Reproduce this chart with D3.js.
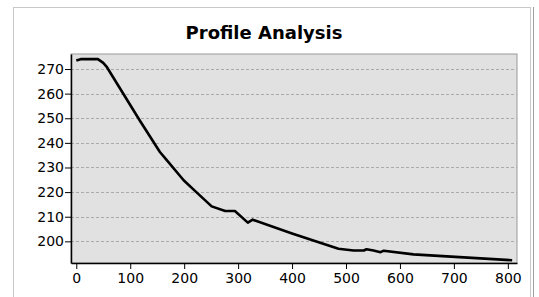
<!DOCTYPE html>
<html>
<head>
<meta charset="utf-8">
<script src="https://cdn.jsdelivr.net/npm/d3@7"></script>
<style>
  body { margin: 0; background: #fff; }
  svg text { font-family: "DejaVu Sans", sans-serif; }
</style>
</head>
<body>
<svg id="chart" width="539" height="297"></svg>
<script>
// profile values
const distance = [0, 8, 40, 50, 56, 118, 155, 165, 199, 225, 251, 276, 294, 318, 327, 400, 486, 514, 533, 538, 551, 564, 570, 625, 687, 808];
const elevation = [273.5, 274, 274, 272.5, 271, 249, 236.3, 233.7, 224.8, 219.5, 214.2, 212.3, 212.3, 207.6, 208.8, 203.2, 197, 196.3, 196.3, 196.8, 196.3, 195.6, 196.2, 194.7, 193.9, 192.3];
const xTicks = [0, 100, 200, 300, 400, 500, 600, 700, 800];
const yTicks = [200, 210, 220, 230, 240, 250, 260, 270];

const data = distance.map((d, i) => ({x: d, y: elevation[i]}));

const svg = d3.select('#chart');

// outer frame
svg.append('rect')
   .attr('x', 13.5).attr('y', 7.5)
   .attr('width', 517).attr('height', 300)
   .attr('fill', 'none')
   .attr('stroke', '#c8c8c8');
svg.append('line')
   .attr('x1', 533.5).attr('x2', 533.5).attr('y1', 7).attr('y2', 297)
   .attr('stroke', '#a0a0a0');

const margin = {top: 54, right: 22, bottom: 34, left: 71};
const width = 539 - margin.left - margin.right;
const height = 297 - margin.top - margin.bottom;

svg.append('text')
   .attr('x', 264).attr('y', 39)
   .attr('text-anchor', 'middle')
   .style('font-size', '18px')
   .style('font-weight', 'bold')
   .text('Profile Analysis');

const g = svg.append('g')
   .attr('transform', `translate(${margin.left}, ${margin.top})`);

const xScale = d3.scaleLinear().domain([-9.8, 817]).range([0, width]);
const yScale = d3.scaleLinear().domain([191.2, 276.1]).range([height, 0]);

g.append('rect')
 .attr('width', width).attr('height', height)
 .attr('fill', '#e1e1e1')
 .attr('stroke', '#999');

// dashed grid
g.selectAll('.grid')
 .data(yTicks)
 .enter()
 .append('line')
 .attr('x1', 0).attr('x2', width)
 .attr('y1', d => Math.round(yScale(d)) + 0.5)
 .attr('y2', d => Math.round(yScale(d)) + 0.5)
 .attr('stroke', '#aaa')
 .attr('stroke-dasharray', '3,2');

const line = d3.line()
    .x(d => xScale(d.x))
    .y(d => yScale(d.y));

g.append('path')
 .datum(data)
 .attr('d', line)
 .attr('fill', 'none')
 .attr('stroke', '#000')
 .attr('stroke-width', 2.6)
 .attr('stroke-linejoin', 'round');

const xAxis = g.append('g')
 .attr('transform', `translate(0, ${height})`)
 .call(d3.axisBottom(xScale).tickValues(xTicks).tickSize(6).tickSizeOuter(0).tickPadding(4));
const yAxis = g.append('g')
 .call(d3.axisLeft(yScale).tickValues(yTicks).tickSize(6).tickSizeOuter(0).tickPadding(1));

[xAxis, yAxis].forEach(a => {
  a.select('.domain').attr('stroke', '#000').attr('stroke-width', 1.5);
  a.selectAll('.tick line').attr('stroke', '#000');
  a.selectAll('.tick text')
   .style('font-size', '14px')
   .attr('fill', '#000')
   .style('font-family', '"DejaVu Sans", sans-serif');
});
</script>
</body>
</html>
